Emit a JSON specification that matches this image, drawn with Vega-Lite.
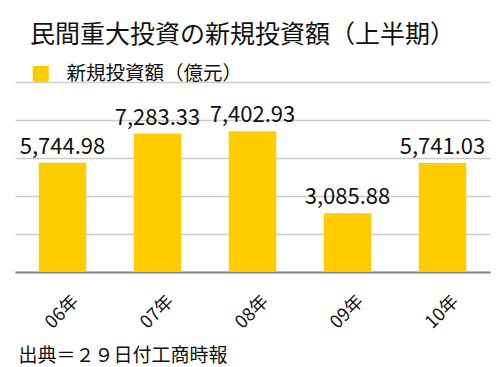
{
  "$schema": "https://vega.github.io/schema/vega-lite/v6.json",
  "width": 475,
  "height": 190,
  "autosize": {"type": "none"},
  "padding": {"left": 15, "top": 82, "right": 14, "bottom": 95},
  "background": "white",
  "config": {"font": "Noto Sans CJK JP", "view": {"stroke": null}},
  "title": {
    "text": "民間重大投資の新規投資額（上半期）",
    "anchor": "start",
    "frame": "group",
    "fontSize": 25,
    "fontWeight": "normal",
    "color": "#111111",
    "dx": 15,
    "offset": 16,
    "font": "Noto Sans CJK JP"
  },
  "data": {
    "values": [
      {"year": "06年", "value": 5744.98, "series": "新規投資額（億元）"},
      {"year": "07年", "value": 7283.33, "series": "新規投資額（億元）"},
      {"year": "08年", "value": 7402.93, "series": "新規投資額（億元）"},
      {"year": "09年", "value": 3085.88, "series": "新規投資額（億元）"},
      {"year": "10年", "value": 5741.03, "series": "新規投資額（億元）"}
    ]
  },
  "encoding": {
    "x": {
      "field": "year",
      "type": "nominal",
      "sort": null,
      "scale": {"paddingInner": 0.5, "paddingOuter": 0.25},
      "axis": {
        "labelAngle": -45,
        "labelAlign": "center",
        "labelBaseline": "middle",
        "labelPadding": 40,
        "ticks": false,
        "grid": false,
        "domain": true,
        "domainColor": "#888888",
        "domainWidth": 2,
        "labelFontSize": 18,
        "labelColor": "#111111",
        "title": "出典＝２９日付工商時報",
        "titleX": 3,
        "titleY": 83,
        "titleAlign": "left",
        "titleAnchor": null,
        "titleBaseline": "middle",
        "titleFontSize": 19,
        "titleFontWeight": "normal",
        "titleColor": "#111111"
      }
    },
    "y": {
      "field": "value",
      "type": "quantitative",
      "scale": {"domain": [0, 10000]},
      "axis": {
        "tickCount": 5,
        "labels": false,
        "ticks": false,
        "domain": false,
        "title": null,
        "gridColor": "#cccccc",
        "gridWidth": 1.5
      }
    }
  },
  "layer": [
    {
      "mark": {"type": "bar"},
      "encoding": {
        "color": {
          "field": "series",
          "type": "nominal",
          "scale": {"range": ["#FFCC00"]},
          "legend": {
            "title": null,
            "orient": "none",
            "legendX": 16,
            "legendY": -18,
            "padding": 0,
            "symbolType": "square",
            "symbolSize": 256,
            "symbolStrokeWidth": 0,
            "symbolOpacity": 1,
            "labelFontSize": 19.5,
            "labelOffset": 16,
            "labelLimit": 400,
            "labelColor": "#111111"
          }
        }
      }
    },
    {
      "mark": {"type": "text", "baseline": "alphabetic", "dy": -9, "fontSize": 22, "color": "#111111"},
      "encoding": {"text": {"field": "value", "type": "quantitative", "format": ",.2f"}}
    }
  ]
}
